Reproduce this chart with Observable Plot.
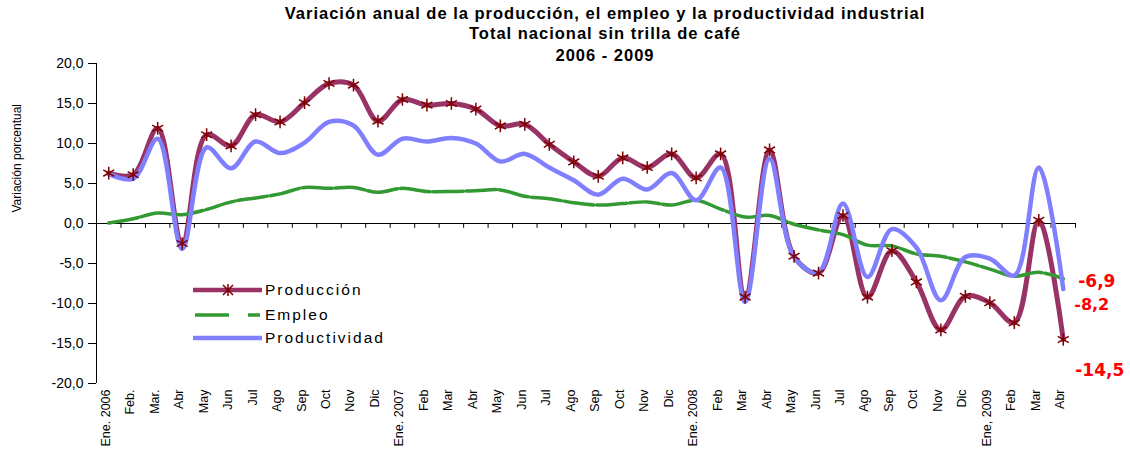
<!DOCTYPE html>
<html>
<head>
<meta charset="utf-8">
<script src="https://cdn.jsdelivr.net/npm/d3@7"></script>
<script src="https://cdn.jsdelivr.net/npm/@observablehq/plot@0.6"></script>
<style>
  html, body { margin: 0; padding: 0; background: #fff; }
  body { width: 1130px; height: 459px; position: relative; overflow: hidden; font-family: "Liberation Sans", Arial, sans-serif; }
  #title { height: 48px; box-sizing: border-box; padding-top: 3px; margin-left: 80px; width: 1050px; text-align: center; font-weight: bold; font-size: 16.5px; letter-spacing: 1px; line-height: 20px; color: #000; white-space: nowrap; }
  #title .l3 { display: block; margin-top: 2px; }
  #legend { position: absolute; left: 190px; top: 280px; }
  .lg { position: absolute; left: 0; height: 20px; width: 260px; }
  .lg svg { position: absolute; left: 0; top: 0; }
  .lg span { position: absolute; left: 75px; top: 1px; font-size: 15.5px; letter-spacing: 2px; color: #000; white-space: nowrap; }
</style>
</head>
<body>
<div id="title">Variación anual de la producción, el empleo y la productividad industrial<br>Total nacional sin trilla de café<span class="l3">2006 - 2009</span></div>
<div id="chart"></div>
<div id="legend"></div>
<script>
const labels = ["Ene. 2006","Feb.","Mar.","Abr","May","Jun","Jul","Ago","Sep","Oct","Nov","Dic",
  "Ene. 2007","Feb","Mar","Abr","May","Jun","Jul","Ago","Sep","Oct","Nov","Dic",
  "Ene. 2008","Feb","Mar","Abr","May","Jun","Jul","Ago","Sep","Oct","Nov","Dic",
  "Ene, 2009","Feb","Mar","Abr"];
const produccion = [6.3,6.1,11.9,-2.5,11.1,9.7,13.6,12.7,15.1,17.5,17.3,12.8,
  15.5,14.8,15.0,14.3,12.2,12.4,9.9,7.7,5.9,8.2,7.0,8.7,
  5.7,8.7,-9.2,9.2,-4.1,-6.2,1.0,-9.2,-3.4,-7.3,-13.3,-9.1,
  -9.9,-12.4,0.4,-14.5];
const empleo = [0.05,0.6,1.3,1.1,1.75,2.7,3.2,3.7,4.5,4.4,4.5,3.9,
  4.4,4.0,4.0,4.1,4.2,3.4,3.1,2.6,2.3,2.5,2.7,2.3,
  2.9,1.8,0.8,1.0,-0.1,-0.8,-1.4,-2.7,-2.8,-3.8,-4.1,-4.8,
  -5.7,-6.6,-6.1,-6.9];
const productividad = [6.2,5.6,10.6,-3.2,9.5,6.9,10.25,8.8,10.1,12.7,12.25,8.6,
  10.6,10.25,10.7,10.0,7.75,8.7,7.0,5.4,3.6,5.6,4.25,6.3,
  2.9,7.0,-9.8,8.1,-4.2,-6.1,2.5,-6.7,-0.7,-3.0,-9.6,-4.2,
  -4.4,-6.5,7.0,-8.2];
const yTicks = [-20,-15,-10,-5,0,5,10,15,20];
const seriesNames = ["Producción","Empleo","Productividad"];
const seriesColors = ["#993366","#339933","#8080FF"];
const markerColor = "#800000";
const endValues = [-6.9, -8.2, -14.5];

const fmt = d => d.toFixed(1).replace(".", ",");
const data = labels.map((label, i) => ({i, label, produccion: produccion[i], empleo: empleo[i], productividad: productividad[i]}));
const idx = labels.map((_, i) => i);
const bounds = labels.map((_, i) => i + 0.5);
const last = labels.length - 1;

const chart = Plot.plot({
  width: 1130, height: 411,
  marginLeft: 96, marginRight: 55, marginTop: 15, marginBottom: 76,
  x: {type: "linear", domain: [-0.5, last + 0.5]},
  y: {domain: [-20, 20]},
  style: {fontFamily: "'Liberation Sans', Arial, sans-serif", color: "#000", background: "transparent"},
  marks: [
    Plot.axisY({ticks: yTicks, tickFormat: fmt, tickSize: 8, tickPadding: 5, fontSize: 14, label: null, style: {letterSpacing: "1.8px"}}),
    Plot.axisX({ticks: idx, tickFormat: i => labels[i], tickSize: 0, tickPadding: 6, tickRotate: -90, fontSize: 12.5, label: null, dx: -3}),
    Plot.ruleX([-0.5], {y1: -20, y2: 20, stroke: "#000"}),
    Plot.ruleY([0], {x1: -0.5, x2: last + 0.5, stroke: "#000"}),
    Plot.ruleX(bounds, {x: d => d, y1: 0, y2: -0.6, stroke: "#000"}),
    Plot.text(["Variación porcentual"], {frameAnchor: "left", rotate: -90, dx: -79, dy: -11, fontSize: 12}),
    Plot.line(data, {x: "i", y: "produccion", stroke: seriesColors[0], strokeWidth: 5, curve: "catmull-rom"}),
    Plot.line(data, {x: "i", y: "empleo", stroke: seriesColors[1], strokeWidth: 3.5, strokeDasharray: "30,3", curve: "catmull-rom"}),
    Plot.line(data, {x: "i", y: "productividad", stroke: seriesColors[2], strokeWidth: 4.5, curve: "catmull-rom"}),
    Plot.dot(data, {x: "i", y: "produccion", symbol: "asterisk", r: 6, stroke: markerColor, strokeWidth: 1.5}),
    Plot.text([endValues[0]], {x: () => last, y: d => d, text: fmt, dx: 15, dy: 2.5, textAnchor: "start", fill: "#FF0000", fontWeight: "bold", fontSize: 17, fontFamily: "'DejaVu Sans', sans-serif"}),
    Plot.text([endValues[1]], {x: () => last, y: d => d, text: fmt, dx: 11, dy: 15.5, textAnchor: "start", fill: "#FF0000", fontWeight: "bold", fontSize: 16, fontFamily: "'DejaVu Sans', sans-serif"}),
    Plot.text([endValues[2]], {x: () => last, y: d => d, text: fmt, dx: 12, dy: 31, textAnchor: "start", fill: "#FF0000", fontWeight: "bold", fontSize: 17, fontFamily: "'DejaVu Sans', sans-serif"})
  ]
});
document.getElementById("chart").appendChild(chart);

// Legend
const legend = document.getElementById("legend");
const rowsTop = [0, 25, 48];
seriesNames.forEach((name, k) => {
  const row = document.createElement("div");
  row.className = "lg";
  row.style.top = rowsTop[k] + "px";
  let inner = "";
  if (k === 0) {
    inner = `<line x1="3" y1="10" x2="72" y2="10" stroke="${seriesColors[0]}" stroke-width="4.5"/>` +
      `<path d="M38,4V16M33,5L43,15M43,5L33,15" stroke="${markerColor}" stroke-width="1.5" fill="none"/>`;
  } else if (k === 1) {
    inner = `<line x1="5" y1="10" x2="70" y2="10" stroke="${seriesColors[1]}" stroke-width="3.5" stroke-dasharray="34,19"/>`;
  } else {
    inner = `<line x1="3" y1="10" x2="72" y2="10" stroke="${seriesColors[2]}" stroke-width="4.5"/>`;
  }
  row.innerHTML = `<svg width="75" height="20">${inner}</svg><span>${name}</span>`;
  legend.appendChild(row);
});
</script>
</body>
</html>
